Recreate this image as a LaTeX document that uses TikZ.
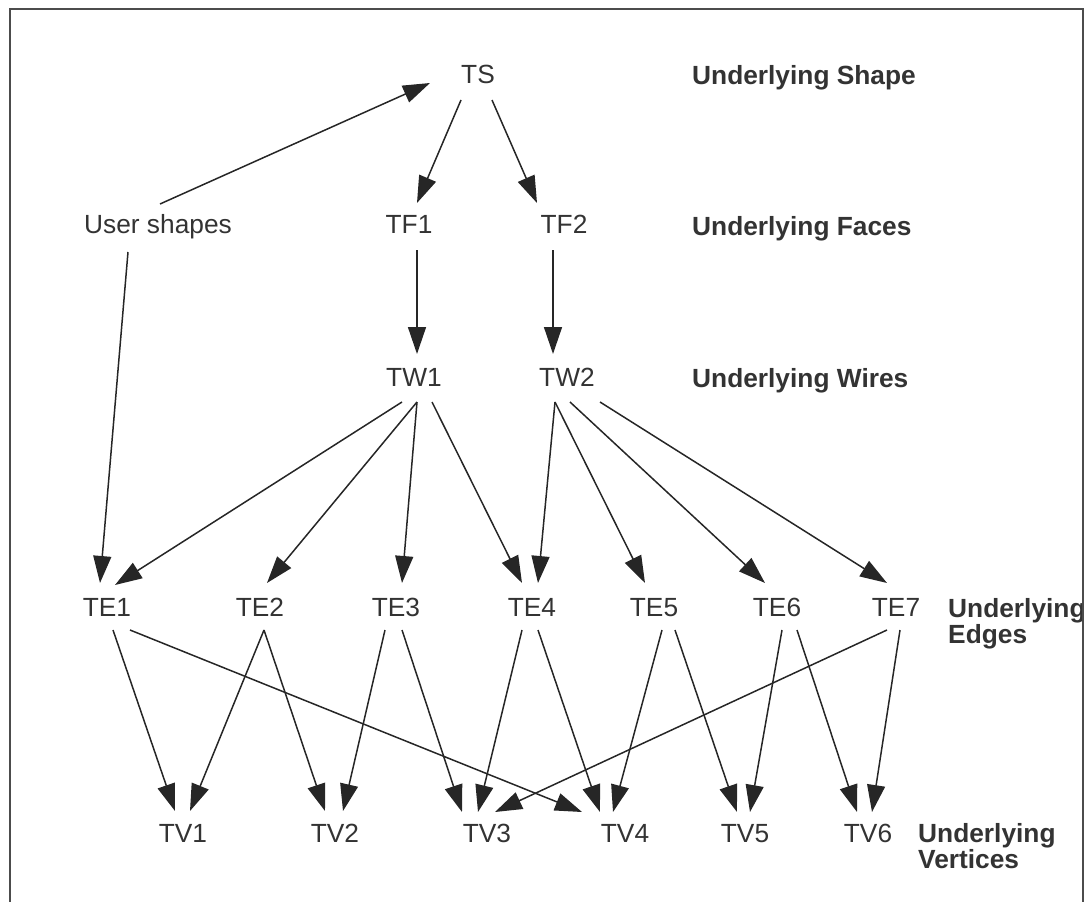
\documentclass[tikz,border=0pt]{standalone}
\usepackage{fontspec}
\setmainfont{Liberation Sans}
\usetikzlibrary{arrows.meta,calc}
\begin{document}
\begin{tikzpicture}[x=1pt,y=-1pt,
  nd/.style={inner sep=0pt,text height=18pt,text depth=0pt,font=\fontsize{26.3}{26.3}\selectfont,text=black!80},
  lbl/.style={inner sep=0pt,font=\fontsize{26.3}{26}\bfseries\selectfont,align=left,text=black!80},
  arr/.style={-{Triangle[length=27pt,width=18pt]},line width=1.5pt,draw=black!85},
]
\useasboundingbox (0,0) rectangle (1090,902);
% nodes
\node[nd] (TS) at (478,74) {TS};
\node[nd] (US) at (158,224) {User shapes};
\node[nd] (TF1) at (409,224) {TF1};
\node[nd] (TF2) at (564,224) {TF2};
\node[nd] (TW1) at (414,377) {TW1};
\node[nd] (TW2) at (567,377) {TW2};
\node[nd] (TE1) at (107,607) {TE1};
\node[nd] (TE2) at (260,607) {TE2};
\node[nd] (TE3) at (396,607) {TE3};
\node[nd] (TE4) at (532,607) {TE4};
\node[nd] (TE5) at (654,607) {TE5};
\node[nd] (TE6) at (777,607) {TE6};
\node[nd] (TE7) at (896,607) {TE7};
\node[nd] (TV1) at (183,833) {TV1};
\node[nd] (TV2) at (335,833) {TV2};
\node[nd] (TV3) at (487,833) {TV3};
\node[nd] (TV4) at (625,833) {TV4};
\node[nd] (TV5) at (745,833) {TV5};
\node[nd] (TV6) at (868,833) {TV6};
% level labels
\node[lbl,anchor=base west] (LS) at (692,84) {Underlying Shape};
\node[lbl,anchor=base west] (LF) at (692,235) {Underlying Faces};
\node[lbl,anchor=base west] (LW) at (692,387) {Underlying Wires};
\node[lbl,anchor=north west] (LE) at (948,598) {Underlying\\Edges};
\node[lbl,anchor=north west] (LV) at (918,823) {Underlying\\Vertices};
% connectors
\draw[arr] ($(US)+(2,-20)$) -- ($(TS)+(-48,9)$);
\draw[arr] ($(TS)+(-17,26)$) -- ($(TF1)+(8,-21)$);
\draw[arr] ($(TS)+(14,26)$) -- ($(TF2)+(-27,-21)$);
\draw[arr] ($(TF1)+(8,26)$) -- ($(TW1)+(3,-23)$);
\draw[arr] ($(TF2)+(-11,26)$) -- ($(TW2)+(-14,-23)$);
\draw[arr] ($(US)+(-30,28)$) -- ($(TE1)+(-7,-24)$);
\draw[arr] ($(TW1)+(-12,25)$) -- ($(TE1)+(8,-22)$);
\draw[arr] ($(TW1)+(3,25)$) -- ($(TE2)+(7,-24)$);
\draw[arr] ($(TW1)+(3,25)$) -- ($(TE3)+(6,-24)$);
\draw[arr] ($(TW1)+(18,25)$) -- ($(TE4)+(-10,-24)$);
\draw[arr] ($(TW2)+(-12,25)$) -- ($(TE4)+(6,-24)$);
\draw[arr] ($(TW2)+(-12,25)$) -- ($(TE5)+(-9,-24)$);
\draw[arr] ($(TW2)+(3,25)$) -- ($(TE6)+(-12,-24)$);
\draw[arr] ($(TW2)+(33,25)$) -- ($(TE7)+(-9,-24)$);
\draw[arr] ($(TE1)+(6,23)$) -- ($(TV1)+(-8,-22)$);
\draw[arr] ($(TE1)+(23,23)$) -- ($(TV4)+(-43,-21)$);
\draw[arr] ($(TE2)+(4,23)$) -- ($(TV1)+(7,-22)$);
\draw[arr] ($(TE2)+(4,23)$) -- ($(TV2)+(-10,-22)$);
\draw[arr] ($(TE3)+(-11,23)$) -- ($(TV2)+(8,-22)$);
\draw[arr] ($(TE3)+(6,23)$) -- ($(TV3)+(-25,-21)$);
\draw[arr] ($(TE4)+(-10,23)$) -- ($(TV3)+(-9,-21)$);
\draw[arr] ($(TE4)+(6,23)$) -- ($(TV4)+(-25,-21)$);
\draw[arr] ($(TE5)+(8,23)$) -- ($(TV4)+(-12,-21)$);
\draw[arr] ($(TE5)+(21,23)$) -- ($(TV5)+(-8,-21)$);
\draw[arr] ($(TE6)+(5,23)$) -- ($(TV5)+(5,-21)$);
\draw[arr] ($(TE6)+(20,23)$) -- ($(TV6)+(-11,-21)$);
\draw[arr] ($(TE7)+(-9,23)$) -- ($(TV3)+(8,-21)$);
\draw[arr] ($(TE7)+(4,23)$) -- ($(TV6)+(4,-21)$);
% frame
\draw[line width=2pt,black!70] (10,904) -- (10,9) -- (1083,9) -- (1083,904);
\end{tikzpicture}
\end{document}
